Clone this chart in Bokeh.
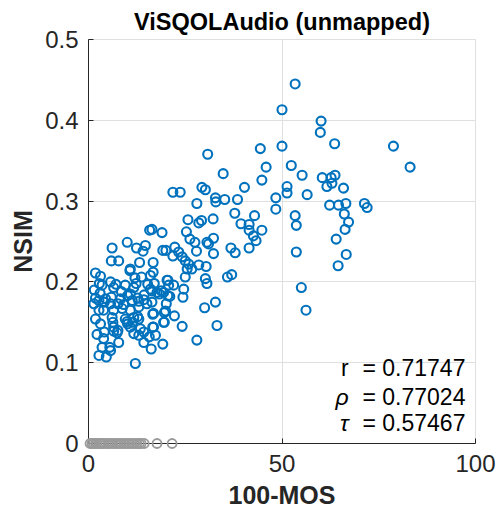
from bokeh.plotting import figure
from bokeh.models import FixedTicker, Label, Range1d
from bokeh.embed import file_html
from bokeh.resources import INLINE

# ---- data ----
blue_x = [
    53.4, 50.0, 60.1, 59.9, 63.6, 78.8, 50.0, 44.4, 45.9, 52.4, 55.2, 83.1, 44.8, 60.4, 62.7,
    63.7, 62.9, 61.6, 65.9, 51.3, 51.3, 56.5, 48.4, 48.4, 62.3, 64.6, 66.5, 71.3, 72.0, 53.4,
    53.7, 66.1, 67.2, 66.3, 44.8, 64.0, 53.7, 66.6, 64.5, 55.0, 56.2,
    30.8, 34.8, 21.8, 23.7, 29.3, 30.2, 40.3, 32.8, 32.9, 35.2, 38.5, 28.0, 37.8, 42.9, 32.2,
    25.7, 29.2, 28.5, 39.4, 41.5, 41.5, 42.6, 43.3, 16.4, 15.8, 19.0, 25.3, 26.2, 27.5, 32.3,
    31.0, 30.6, 41.5, 36.8, 37.9, 20.0, 22.3, 23.3, 21.8, 24.2, 27.9, 32.3, 25.0, 25.9, 25.5,
    26.7, 28.5, 30.4, 25.0, 16.7, 16.7, 35.9, 37.0, 30.2, 30.6, 20.3, 20.7, 21.0, 20.1, 19.9,
    24.6, 24.4, 17.7, 19.4, 16.4, 30.0, 32.8, 16.8, 22.2, 19.4, 24.2, 16.8, 33.2, 17.3, 28.0,
    16.4, 19.2,
    1.8, 3.1, 6.1, 5.9, 7.8, 10.0, 12.4, 14.1, 14.7, 10.7, 10.8, 13.2, 13.7, 16.0, 5.7,
    3.5, 6.5, 9.5, 11.7, 10.8, 1.8, 1.4, 2.7, 4.4, 5.7, 8.3, 9.1, 11.3, 13.0, 14.3,
    2.7, 3.9, 6.5, 8.7, 10.8, 13.0, 15.1, 1.8, 3.1, 6.1, 6.5, 9.5, 10.0, 11.7, 13.0,
    10.8, 13.4, 2.2, 3.9, 6.5, 7.4, 11.7, 13.0, 14.3, 3.5, 5.5, 7.8, 2.7, 4.6, 5.7,
    12.1, 14.3, 16.2,
    2.8, 7.1, 12.3, 15.3, 17.0, 18.8, 20.5, 16.0, 7.6, 10.1, 12.7, 14.4, 18.3, 20.5, 4.1,
    5.9, 16.6, 19.6, 19.6, 6.3, 10.1, 11.4, 12.7, 15.7, 19.2, 4.1, 16.6, 7.6, 1.5, 8.5,
    3.0, 12.0, 22.0,
]
blue_y = [
    0.445, 0.413, 0.399, 0.385, 0.371, 0.368, 0.368, 0.365, 0.342, 0.344, 0.332, 0.342, 0.326, 0.329, 0.329,
    0.332, 0.322, 0.318, 0.316, 0.318, 0.310, 0.308, 0.304, 0.290, 0.295, 0.295, 0.297, 0.297, 0.292, 0.282,
    0.270, 0.284, 0.274, 0.265, 0.264, 0.253, 0.237, 0.234, 0.220, 0.193, 0.165,
    0.358, 0.334, 0.311, 0.311, 0.317, 0.314, 0.317, 0.304, 0.299, 0.302, 0.302, 0.297, 0.285, 0.282, 0.278,
    0.277, 0.276, 0.273, 0.272, 0.271, 0.264, 0.257, 0.251, 0.265, 0.264, 0.261, 0.262, 0.253, 0.249, 0.254,
    0.247, 0.249, 0.242, 0.242, 0.236, 0.239, 0.243, 0.237, 0.232, 0.231, 0.238, 0.235, 0.226, 0.222, 0.216,
    0.216, 0.221, 0.219, 0.206, 0.224, 0.212, 0.206, 0.209, 0.204, 0.198, 0.202, 0.196, 0.182, 0.173, 0.164,
    0.191, 0.181, 0.187, 0.187, 0.175, 0.168, 0.175, 0.161, 0.158, 0.150, 0.145, 0.144, 0.146, 0.134, 0.128,
    0.189, 0.239,
    0.211, 0.207, 0.242, 0.226, 0.226, 0.249, 0.242, 0.238, 0.245, 0.214, 0.216, 0.224, 0.206, 0.208, 0.200,
    0.196, 0.193, 0.196, 0.193, 0.185, 0.180, 0.173, 0.177, 0.179, 0.173, 0.179, 0.172, 0.177, 0.176, 0.178,
    0.165, 0.165, 0.165, 0.167, 0.165, 0.169, 0.173, 0.154, 0.148, 0.156, 0.144, 0.154, 0.151, 0.156, 0.154,
    0.144, 0.142, 0.135, 0.130, 0.139, 0.137, 0.136, 0.134, 0.138, 0.119, 0.119, 0.125, 0.109, 0.107, 0.115,
    0.099, 0.125, 0.117,
    0.198, 0.197, 0.198, 0.197, 0.198, 0.189, 0.202, 0.191, 0.173, 0.183, 0.180, 0.184, 0.185, 0.183, 0.175,
    0.181, 0.160, 0.162, 0.150, 0.150, 0.148, 0.150, 0.157, 0.132, 0.123, 0.138, 0.144, 0.140, 0.190, 0.188,
    0.186, 0.205, 0.196,
]
grey_x = [0.4, 0.9, 1.3, 1.8, 2.2, 2.9, 3.3, 3.8, 4.5, 5.1, 5.6, 6.2, 6.9, 7.4, 8.1, 8.6,
          9.2, 9.9, 10.5, 11.2, 11.8, 12.5, 13.1, 13.6, 14.4, 17.7, 21.6]
grey_y = [0.0] * len(grey_x)

x_ticks = [0, 50, 100]
y_ticks = [0, 0.1, 0.2, 0.3, 0.4, 0.5]
x_tick_labels = ["0", "50", "100"]
y_tick_labels = ["0", "0.1", "0.2", "0.3", "0.4", "0.5"]

stat_symbols = ["r", "\u03c1", "\u03c4"]
stat_values = ["= 0.71747", "= 0.77024", "= 0.57467"]
stat_y = [0.093, 0.057, 0.025]

title_text = "ViSQOLAudio (unmapped)"
x_label = "100-MOS"
y_label = "NSIM"

FONT = "Liberation Sans"
DARK = "#262626"
GRID = "#dfdfdf"
BLUE = "#0072BD"

p = figure(width=498, height=520, output_backend="svg", toolbar_location=None,
           x_range=Range1d(0, 100), y_range=Range1d(0, 0.5),
           min_border_left=88, min_border_right=23, min_border_top=39,
           min_border_bottom=77, title=title_text)

p.title.align = "center"
p.title.text_font = FONT
p.title.text_font_size = "23.5px"
p.title.text_font_style = "bold"
p.title.text_color = "#000000"

p.outline_line_color = GRID
p.background_fill_color = "white"
p.border_fill_color = "white"

for ax, ticks, labels in ((p.xaxis, x_ticks, x_tick_labels), (p.yaxis, y_ticks, y_tick_labels)):
    ax.ticker = FixedTicker(ticks=ticks)
    ax.major_label_overrides = {t: l for t, l in zip(ticks, labels)}
    ax.major_tick_in = 5
    ax.major_tick_out = 0
    ax.minor_tick_line_color = None
    ax.axis_line_color = DARK
    ax.major_tick_line_color = DARK
    ax.major_label_text_font = FONT
    ax.major_label_text_font_size = "24px"
    ax.major_label_text_color = DARK
    ax.axis_label_text_font = FONT
    ax.axis_label_text_font_size = "25px"
    ax.axis_label_text_font_style = "bold"
    ax.axis_label_text_color = DARK

p.xaxis.axis_label = x_label
p.yaxis.axis_label = y_label
p.xaxis.major_label_standoff = 11
p.yaxis.major_label_standoff = 10
p.xaxis.axis_label_standoff = 6
p.yaxis.axis_label_standoff = 5

p.xgrid.ticker = FixedTicker(ticks=x_ticks)
p.ygrid.ticker = FixedTicker(ticks=y_ticks)
p.grid.grid_line_color = GRID
p.grid.grid_line_width = 1

p.scatter(grey_x, grey_y, marker="circle", size=9, fill_color=None,
          line_color="#9a9a9a", line_width=1.8, level="overlay")
p.scatter(blue_x, blue_y, marker="circle", size=9, fill_color=None,
          line_color=BLUE, line_width=2.1, level="overlay")

for sym, val, yy in zip(stat_symbols, stat_values, stat_y):
    p.add_layout(Label(x=97.4, y=yy, text=val, text_align="right", text_baseline="middle",
                       text_font=FONT, text_font_size="23px", text_color="#000000"))
    p.add_layout(Label(x=67.2, y=yy, text=sym, text_align="right", text_baseline="middle",
                       text_font=FONT, text_font_size="23px", text_color="#000000",
                       text_font_style="normal" if sym == "r" else "italic"))

open("out.html", "w").write(file_html(p, INLINE))
